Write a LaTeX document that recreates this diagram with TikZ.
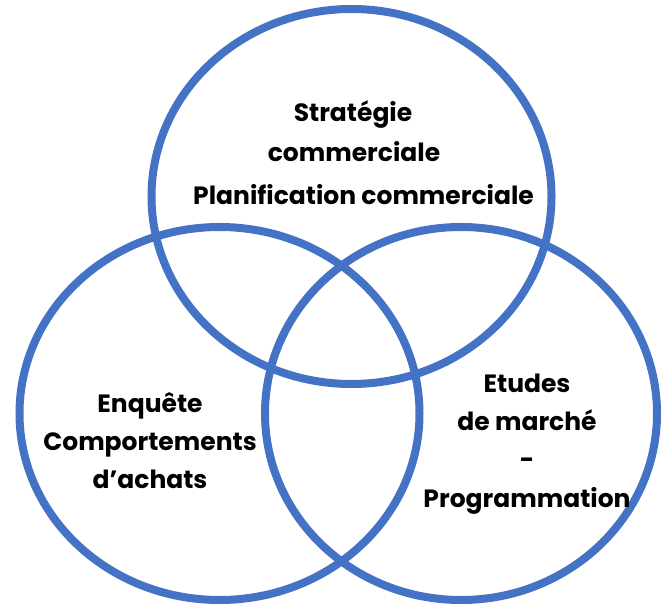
\documentclass[tikz,border=0pt]{standalone}
\usepackage{fontspec}
\setmainfont{Poppins}
\definecolor{venn}{HTML}{4472C4}
\begin{document}
\begin{tikzpicture}[x=1pt,y=-1pt,
  ring/.style={draw=venn,line width=8pt},
  lbl/.style={anchor=base,inner sep=0pt,font=\fontsize{25}{30}\selectfont\bfseries,text=black}]
\useasboundingbox (0,0) rectangle (661,609);
\draw[ring] (351.5,196.5) ellipse [x radius=200pt,y radius=187.5pt];
\draw[ring] (219.5,413.5) ellipse [x radius=200pt,y radius=186.5pt];
\draw[ring] (461,413.5) ellipse [x radius=196pt,y radius=186.5pt];
\node[lbl] (t1) at (353,122) {Stratégie};
\node[lbl] (t2) at (354,162) {commerciale};
\node[lbl] (t3) at (363.5,205) {Planification commerciale};
\node[lbl] (l1) at (150,412) {Enquête};
\node[lbl] (l2) at (150,450) {Comportements};
\node[lbl] (l3) at (150,488) {d’achats};
\node[lbl] (r1) at (527,392) {Etudes};
\node[lbl] (r2) at (527,430) {de marché};
\node[lbl] (r3) at (527,468) {-};
\node[lbl] (r4) at (527,507) {Programmation};
\end{tikzpicture}
\end{document}
